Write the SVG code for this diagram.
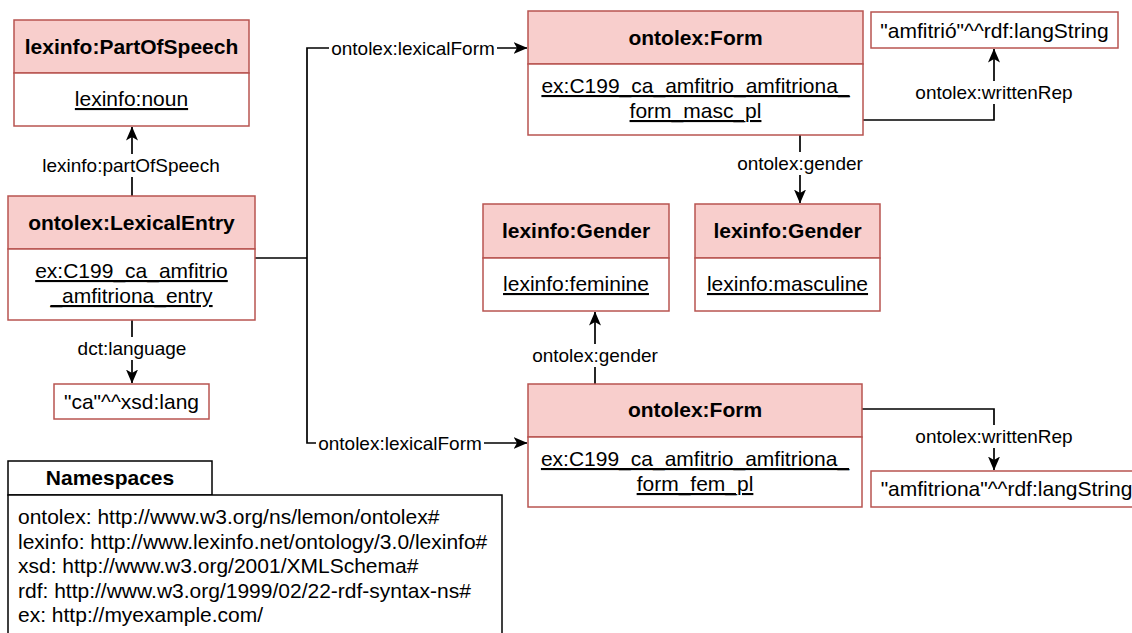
<svg xmlns="http://www.w3.org/2000/svg" width="1132" height="633" viewBox="0 0 1132 633">
<defs>
<style>
text{font-family:"Liberation Sans",Arial,Helvetica,sans-serif;fill:#000}
.hd{fill:#f8cecc;stroke:#b85450;stroke-width:1.5}
.bd{fill:#fff;stroke:#b85450;stroke-width:1.5}
.ns{fill:#fff;stroke:#000;stroke-width:1.5}
.t{font-size:21px;font-weight:bold;text-anchor:middle}
.v{font-size:21px;text-anchor:middle;text-decoration:underline}
.lit{font-size:21px;text-anchor:middle}
.lbl{font-size:19px;text-anchor:middle}
.e{fill:none;stroke:#000;stroke-width:1.7}
.lb{fill:#fff;stroke:none}
.nst{font-size:21px}
</style>
<marker id="arr" viewBox="0 0 14 14" refX="13.5" refY="7" markerWidth="14" markerHeight="14" markerUnits="userSpaceOnUse" orient="auto">
<path d="M0,1 L14,7 L0,13 L3.5,7 Z" fill="#000"/>
</marker>
</defs>

<g id="connectors">
<path class="e" d="M132,196 V127" marker-end="url(#arr)"/>
<path class="e" d="M255,258 H307"/>
<path class="e" d="M307,258 V48 H527" marker-end="url(#arr)"/>
<path class="e" d="M307,258 V443 H527" marker-end="url(#arr)"/>
<path class="e" d="M132,320 V383" marker-end="url(#arr)"/>
<path class="e" d="M863,120 H994 V49" marker-end="url(#arr)"/>
<path class="e" d="M800,135 V203" marker-end="url(#arr)"/>
<path class="e" d="M595,384 V312" marker-end="url(#arr)"/>
<path class="e" d="M862,409 H994 V470" marker-end="url(#arr)"/>
<rect class="lb" x="40" y="154" width="184" height="23"/>
<text class="lbl" x="131" y="172">lexinfo:partOfSpeech</text>
<rect class="lb" x="329" y="37" width="168" height="23"/>
<text class="lbl" x="413" y="54.5">ontolex:lexicalForm</text>
<rect class="lb" x="316" y="432" width="168" height="23"/>
<text class="lbl" x="400" y="449.5">ontolex:lexicalForm</text>
<rect class="lb" x="72" y="337" width="120" height="23"/>
<text class="lbl" x="132" y="355">dct:language</text>
<rect class="lb" x="912" y="81" width="164" height="23"/>
<text class="lbl" x="994" y="98.5">ontolex:writtenRep</text>
<rect class="lb" x="734" y="152" width="132" height="23"/>
<text class="lbl" x="800" y="169.5">ontolex:gender</text>
<rect class="lb" x="529" y="344" width="132" height="23"/>
<text class="lbl" x="595" y="361.5">ontolex:gender</text>
<rect class="lb" x="912" y="425" width="164" height="23"/>
<text class="lbl" x="994" y="442.5">ontolex:writtenRep</text>
</g>

<g id="pos">
<rect class="hd" x="14" y="20" width="235" height="53"/>
<rect class="bd" x="14" y="73" width="235" height="53"/>
<text class="t" x="131.5" y="53.5">lexinfo:PartOfSpeech</text>
<text class="v" x="131.5" y="106">lexinfo:noun</text>
</g>

<g id="entry">
<rect class="hd" x="8" y="196" width="247" height="53"/>
<rect class="bd" x="8" y="249" width="247" height="71"/>
<text class="t" x="131.5" y="229.5">ontolex:LexicalEntry</text>
<text class="v" x="131.5" y="278">ex:C199_ca_amfitrio</text>
<text class="v" x="131.5" y="303">_amfitriona_entry</text>
</g>

<g id="lang">
<rect class="bd" x="54" y="384" width="155" height="35"/>
<text class="lit" x="131.5" y="408.5">"ca"^^xsd:lang</text>
</g>

<g id="form-masc">
<rect class="hd" x="528" y="11" width="335" height="53"/>
<rect class="bd" x="528" y="64" width="335" height="71"/>
<text class="t" x="695.5" y="44.5">ontolex:Form</text>
<text class="v" x="695.5" y="93">ex:C199_ca_amfitrio_amfitriona_</text>
<text class="v" x="695.5" y="118">form_masc_pl</text>
</g>

<g id="rep-masc">
<rect class="bd" x="871" y="12" width="247" height="36"/>
<text class="lit" x="994.5" y="37.5">"amfitrió"^^rdf:langString</text>
</g>

<g id="gender-fem">
<rect class="hd" x="483" y="204" width="186" height="54"/>
<rect class="bd" x="483" y="258" width="186" height="53"/>
<text class="t" x="576" y="238">lexinfo:Gender</text>
<text class="v" x="576" y="291">lexinfo:feminine</text>
</g>

<g id="gender-masc">
<rect class="hd" x="695" y="204" width="185" height="54"/>
<rect class="bd" x="695" y="258" width="185" height="53"/>
<text class="t" x="787.5" y="238">lexinfo:Gender</text>
<text class="v" x="787.5" y="291">lexinfo:masculine</text>
</g>

<g id="form-fem">
<rect class="hd" x="528" y="384" width="334" height="53"/>
<rect class="bd" x="528" y="437" width="334" height="70"/>
<text class="t" x="695" y="417">ontolex:Form</text>
<text class="v" x="695" y="466">ex:C199_ca_amfitrio_amfitriona_</text>
<text class="v" x="695" y="491">form_fem_pl</text>
</g>

<g id="rep-fem">
<rect class="bd" x="871" y="471" width="271" height="36"/>
<text class="lit" x="1006.5" y="496">"amfitriona"^^rdf:langString</text>
</g>

<g id="namespaces">
<rect class="ns" x="8" y="461" width="204" height="34"/>
<text class="t" x="110" y="484.5">Namespaces</text>
<rect class="ns" x="8" y="495" width="494" height="150"/>
<text class="nst" x="18" y="524">ontolex: http://www.w3.org/ns/lemon/ontolex#</text>
<text class="nst" x="18" y="548.5">lexinfo: http://www.lexinfo.net/ontology/3.0/lexinfo#</text>
<text class="nst" x="18" y="573">xsd: http://www.w3.org/2001/XMLSchema#</text>
<text class="nst" x="18" y="597.5">rdf: http://www.w3.org/1999/02/22-rdf-syntax-ns#</text>
<text class="nst" x="18" y="622">ex: http://myexample.com/</text>
</g>
</svg>
